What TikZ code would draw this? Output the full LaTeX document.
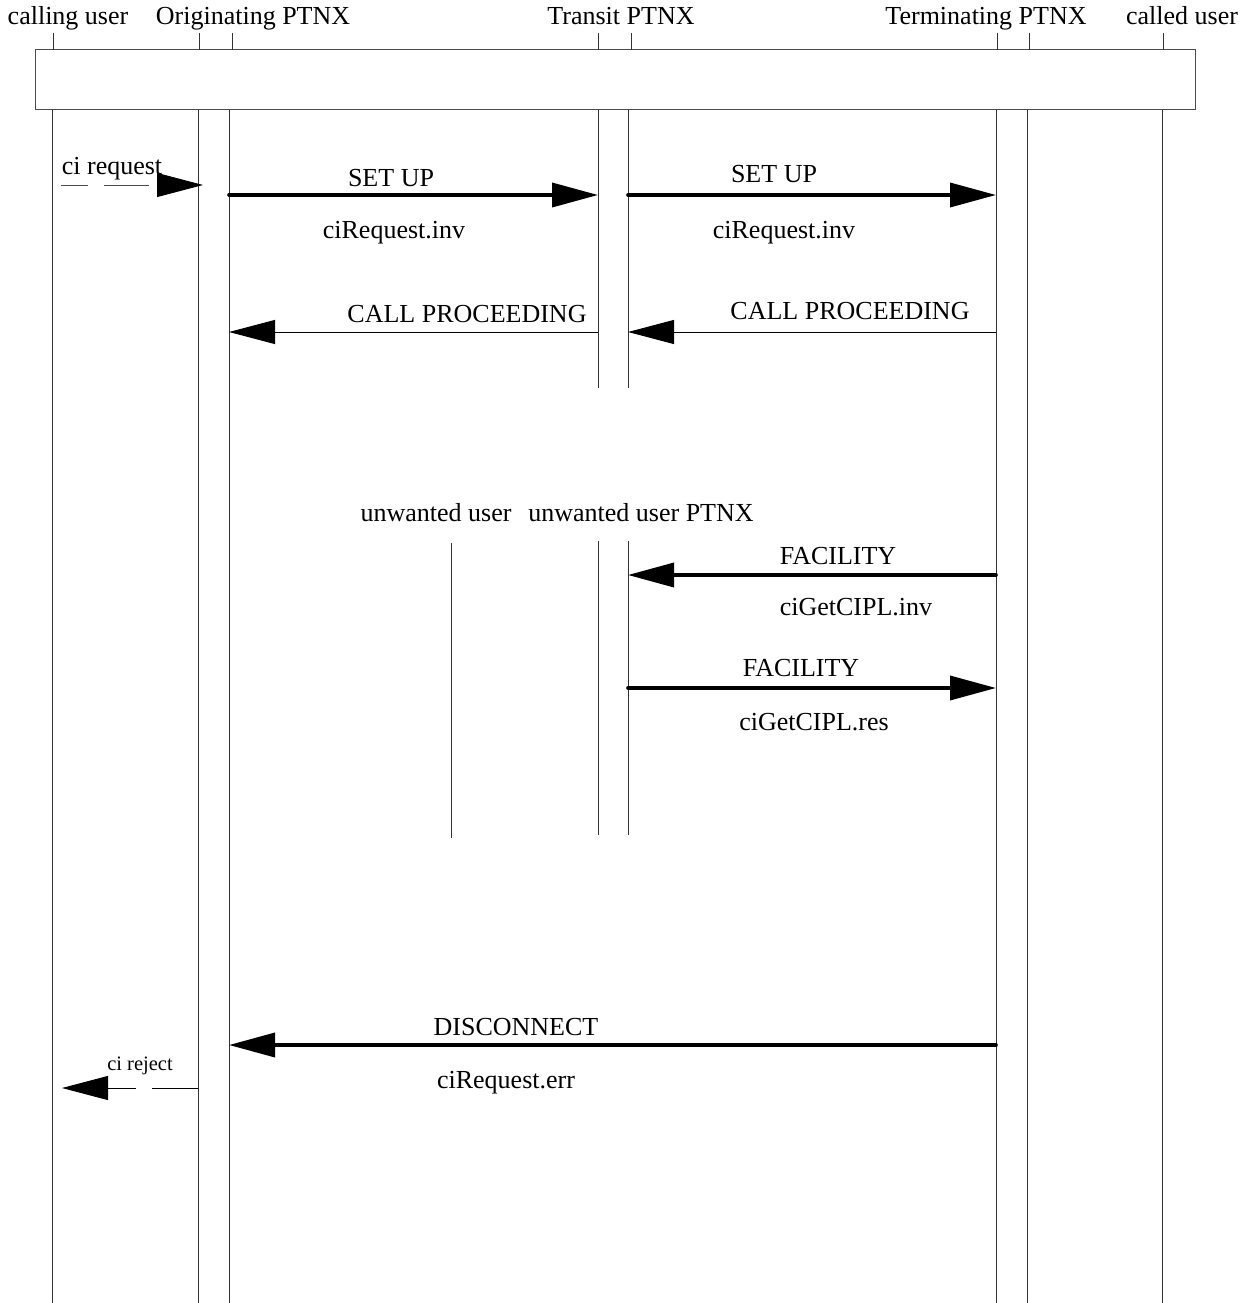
\documentclass[tikz,border=0pt]{standalone}
\usepackage{fontspec}
\setmainfont{Liberation Serif}
\usetikzlibrary{arrows.meta}
\begin{document}
\begin{tikzpicture}[x=1pt,y=-1pt,
  lbl/.style={font=\fontsize{26}{30}\selectfont, anchor=base, inner sep=0pt},
  small/.style={font=\fontsize{20.5}{24}\selectfont, anchor=base, inner sep=0pt},
  life/.style={line width=1pt, black!80},
  thickmsg/.style={line width=3.6pt, line cap=round, -{Triangle[length=46pt,width=24pt]}},
  thinmsg/.style={line width=1pt, -{Triangle[length=46pt,width=24pt]}},
  frame/.style={draw=black!70, line width=1pt}]
\useasboundingbox (0,0) rectangle (1254,1303);

% header labels
\node[lbl] (lcu) at (68,25) {calling user};
\node[lbl] (lop) at (253,25) {Originating PTNX};
\node[lbl] (ltp) at (621,25) {Transit PTNX};
\node[lbl] (ltt) at (986,25) {Terminating PTNX};
\node[lbl] (lcd) at (1182,25) {called user};

% box
\node[frame, minimum width=1160pt, minimum height=60pt, inner sep=0pt] (box) at (615,80) {};

% ticks above the box
\foreach \x/\n in {53/a,199/b,232/c,598/d,631/e,997/f,1029/g,1163/h}
  \draw[life] (\x,33) coordinate (tk\n) -- (\x,50);

% lifelines
\foreach \x/\n in {52/cu,198/o1,229/o2,996/t1,1027/t2,1162/cd}
  \draw[life] (\x,110) coordinate (top\n) -- (\x,1303) coordinate (bot\n);
\draw[life] (598,110) coordinate (toptr1) -- (598,388) coordinate (bottr1);
\draw[life] (628,110) coordinate (toptr2) -- (628,388) coordinate (bottr2);

% ci request
\node[lbl] (cireq) at (112,174) {ci request};
\coordinate (cr1) at (61,185);
\coordinate (cr2) at (203,185);
\draw[line width=1pt, black!70, dash pattern=on 27pt off 16pt on 45pt off 100pt, -{Triangle[length=46pt,width=24pt,color=black]}] (cr1) -- (cr2);

% SET UP 1
\coordinate (s1a) at (229,195); \coordinate (s1b) at (598,195);
\draw[thickmsg] (s1a) -- (s1b);
\node[lbl] (su1) at (391,186) {SET UP};
\node[lbl] (ci1) at (394,238) {ciRequest.inv};

% SET UP 2
\coordinate (s2a) at (628,195); \coordinate (s2b) at (996,195);
\draw[thickmsg] (s2a) -- (s2b);
\node[lbl] (su2) at (774,182) {SET UP};
\node[lbl] (ci2) at (784,238) {ciRequest.inv};

% CALL PROCEEDING
\coordinate (cp1a) at (598,332); \coordinate (cp1b) at (229,332);
\draw[thinmsg] (cp1a) -- (cp1b);
\node[lbl] (cpl1) at (467,322) {CALL PROCEEDING};
\coordinate (cp2a) at (996,332); \coordinate (cp2b) at (628,332);
\draw[thinmsg] (cp2a) -- (cp2b);
\node[lbl] (cpl2) at (850,319) {CALL PROCEEDING};

% unwanted user part
\node[lbl] (uu) at (436,521) {unwanted user};
\node[lbl] (uup) at (641,521) {unwanted user PTNX};
\draw[life] (451,543) coordinate (uutop) -- (451,838) coordinate (uubot);
\draw[life] (598,541) coordinate (up1top) -- (598,835) coordinate (up1bot);
\draw[life] (628,541) coordinate (up2top) -- (628,835) coordinate (up2bot);

% FACILITY 1
\coordinate (f1a) at (996,575); \coordinate (f1b) at (628,575);
\draw[thickmsg] (f1a) -- (f1b);
\node[lbl] (fl1) at (838,564) {FACILITY};
\node[lbl] (gc1) at (856,615) {ciGetCIPL.inv};

% FACILITY 2
\coordinate (f2a) at (628,688); \coordinate (f2b) at (996,688);
\draw[thickmsg] (f2a) -- (f2b);
\node[lbl] (fl2) at (801,676) {FACILITY};
\node[lbl] (gc2) at (814,730) {ciGetCIPL.res};

% DISCONNECT
\coordinate (da) at (996,1045); \coordinate (db) at (229,1045);
\draw[thickmsg] (da) -- (db);
\node[lbl] (dl) at (516,1035) {DISCONNECT};
\node[lbl] (de) at (506,1088) {ciRequest.err};

% ci reject
\node[small] (cirj) at (140,1070) {ci reject};
\coordinate (rj1) at (198,1088);
\coordinate (rj2) at (62,1088);
\draw[line width=1pt, dash pattern=on 46pt off 16pt on 80pt, -{Triangle[length=46pt,width=24pt]}] (rj1) -- (rj2);
\end{tikzpicture}
\end{document}
